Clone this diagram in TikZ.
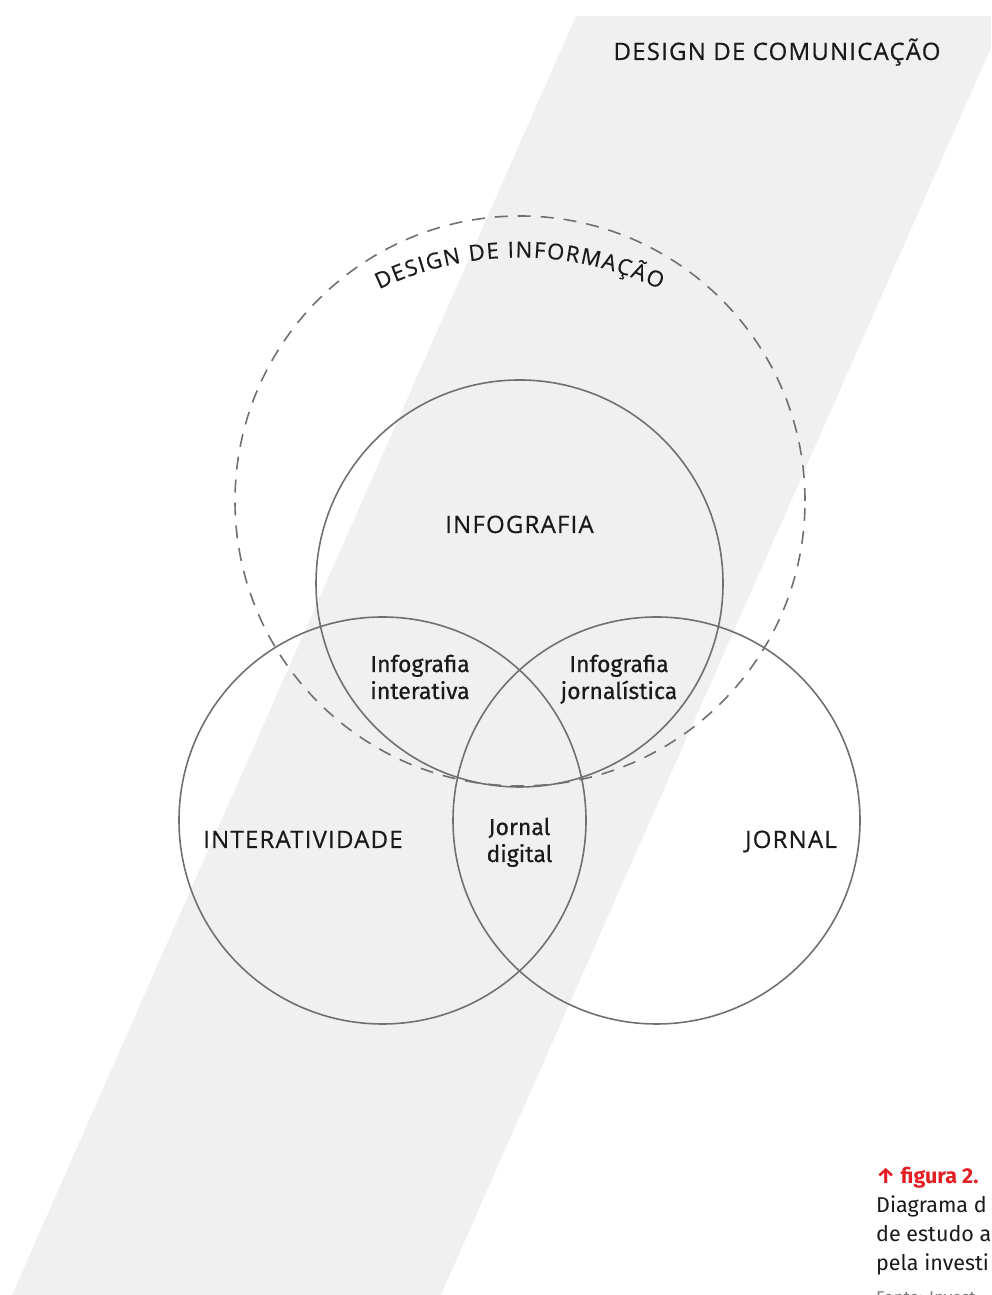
\documentclass[tikz,border=0pt]{standalone}
\usepackage{fontspec}
\setmainfont{Open Sans}
\newfontfamily\capf{Open Sans}[LetterSpace=5, FakeBold=0.5]
\newfontfamily\arcf{Open Sans}[FakeBold=0.5]
\newfontfamily\labf{Fira Sans}[FakeBold=0.6]
\newfontfamily\capt{Fira Sans}
\usetikzlibrary{decorations.text}
\definecolor{band}{RGB}{240,240,240}
\definecolor{ring}{RGB}{112,112,112}
\definecolor{ink}{RGB}{26,26,26}
\definecolor{capred}{RGB}{227,30,36}
\definecolor{fontgray}{RGB}{120,120,120}
\begin{document}
\begin{tikzpicture}[x=1pt,y=1pt,
  ringline/.style={draw=ring, line width=1.6pt},
  dashring/.style={draw=ring, line width=1.6pt, dash pattern=on 13pt off 10pt},
  caplabel/.style={font=\capf\fontsize{24}{28}\selectfont, text=ink, inner sep=0pt, anchor=base},
  minlabel/.style={font=\labf\fontsize{23}{27}\selectfont, text=ink, inner sep=0pt, anchor=base},
  captxt/.style={font=\capt\fontsize{21.5}{29}\selectfont, text=ink, inner sep=0pt, anchor=base west}]
\useasboundingbox (0,0) rectangle (991,1295);
\clip (0,0) rectangle (991,1295);
% band
\fill[band] (12,0) -- (441,0) -- (1005,1279) -- (576,1279) -- cycle;
% centres
\coordinate (cinfo) at (519.5,711.5);
\coordinate (cdes) at (520,794);
\coordinate (cint) at (382.5,474.5);
\coordinate (cjor) at (656.5,474.5);
% circles
\draw[dashring] (cdes) circle[radius=285];
\draw[ringline] (cinfo) circle[radius=203.5];
\draw[ringline] (cint) circle[radius=203.5];
\draw[ringline] (cjor) circle[radius=203.5];
% curved label
\path[decorate, decoration={text along path, text align=fit to path,
  text={|\arcf\fontsize{22}{26}\selectfont\color{ink}|DESIGN DE INFORMAÇÃO}}]
  (cinfo) ++(115.5:326) arc[start angle=115.5, end angle=64.5, radius=326];
% labels
\node[caplabel] (comun) at (777,1235) {DESIGN DE COMUNICAÇÃO};
\node[caplabel] (infog) at (519.5,762) {INFOGRAFIA};
\node[caplabel] (inter) at (303,447) {INTERATIVIDADE};
\node[caplabel] (jorn) at (791,447) {JORNAL};
\node[minlabel] (ii1) at (420,623) {Infografia};
\node[minlabel] (ii2) at (420,596) {interativa};
\node[minlabel] (ij1) at (619,623) {Infografia};
\node[minlabel] (ij2) at (619,596) {jornalística};
\node[minlabel] (jd1) at (519.5,460) {Jornal};
\node[minlabel] (jd2) at (519.5,433) {digital};
% caption
\node[captxt, text=capred, font=\capt\bfseries\fontsize{21.5}{29}\selectfont] (fig) at (876,111) {↑ figura 2.};
\node[captxt] (cap1) at (876,82) {Diagrama d};
\node[captxt] (cap2) at (876,53) {de estudo a};
\node[captxt] (cap3) at (876,24) {pela investi};
\node[captxt, text=fontgray, font=\capt\fontsize{17}{20}\selectfont] (cap4) at (876,-9) {Fonte: Invest};
\end{tikzpicture}
\end{document}
